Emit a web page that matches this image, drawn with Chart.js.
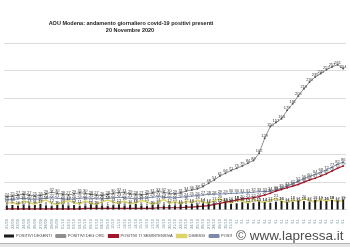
<!DOCTYPE html>
<html>
<head>
<meta charset="utf-8">
<script src="https://cdn.jsdelivr.net/npm/chart.js@4"></script>
<style>
  body { margin: 0; background: #fff; }
  #wrap { width: 350px; height: 247px; }
</style>
</head>
<body>
<div id="wrap"><canvas id="grafico" width="350" height="247"></canvas></div>
<script>
const giorni = [
  '21/09','22/09','23/09','24/09','25/09','26/09','27/09','28/09','29/09','30/09',
  '01/10','02/10','03/10','04/10','05/10','06/10','07/10','08/10','09/10','10/10',
  '11/10','12/10','13/10','14/10','15/10','16/10','17/10','18/10','19/10','20/10',
  '21/10','22/10','23/10','24/10','25/10','26/10','27/10','28/10','29/10','30/10',
  '31/10','01/11','02/11','03/11','04/11','05/11','06/11','07/11','08/11','09/11',
  '10/11','11/11','12/11','13/11','14/11','15/11','16/11','17/11','18/11','19/11','20/11'
];
// valori stimati dal grafico
const degenti = [
  8,9,7,10,8,9,11,8,7,9,
  10,8,9,7,8,10,9,8,7,9,
  10,8,9,11,8,7,9,10,8,9,
  8,10,9,11,10,12,11,10,12,13,
  11,12,14,12,13,15,14,13,15,16,
  14,15,17,16,15,18,17,16,18,17,19
];
const degOrd = [
  24,25,27,28,27,25,26,29,32,30,
  28,27,29,31,30,28,27,26,28,30,
  32,31,29,28,27,29,31,33,32,30,
  29,31,34,36,38,42,48,54,61,66,
  71,75,79,84,89,102,129,150,157,164,
  179,191,205,218,230,239,245,252,257,261,254
];
const semintensiva = [
  2,2,2,2,2,2,2,2,2,2,
  2,2,2,2,3,3,3,3,3,3,
  3,3,3,3,3,3,3,4,4,4,
  4,4,5,5,6,7,8,10,12,14,
  16,18,20,21,22,24,27,30,34,37,
  40,43,46,50,54,57,61,65,70,75,79
];
const dimessi = [
  12,14,10,16,13,11,15,18,12,10,
  14,17,13,11,16,12,10,15,18,14,
  12,16,11,13,17,15,10,14,19,12,
  15,11,16,13,18,14,12,17,20,15,
  13,18,16,12,19,15,14,17,21,16,
  13,18,15,20,17,14,19,16,18,15,17
];
const terapia = [
  18,19,20,21,20,19,20,21,22,21,
  20,19,20,21,22,21,20,20,21,22,
  23,22,21,20,21,22,23,24,23,22,
  22,23,24,25,26,27,28,28,29,29,
  30,30,31,31,32,33,33,34,36,39,
  43,47,52,56,60,64,68,72,77,82,86
];

const etichette = {
  id: 'etichette',
  afterDatasetsDraw(chart) {
    const ctx = chart.ctx;
    ctx.save();
    ctx.font = '4px "Liberation Sans"';
    ctx.textAlign = 'center';
    ctx.fillStyle = '#3a3a3a';
    chart.data.datasets.forEach((ds, i) => {
      const meta = chart.getDatasetMeta(i);
      meta.data.forEach((el, j) => {
        ctx.fillText(ds.data[j], el.x, el.y - 2);
      });
    });
    ctx.restore();
  }
};

const cornice = {
  id: 'cornice',
  afterDraw(chart) {
    const ctx = chart.ctx;
    ctx.save();
    ctx.fillStyle = '#222';
    ctx.textAlign = 'center';
    ctx.font = 'bold 5.5px "Liberation Sans"';
    ctx.fillText('AOU Modena: andamento giornaliero covid-19 positivi presenti', 131, 23);
    ctx.fillText('20 Novembre 2020', 130, 30);
    // watermark
    ctx.fillStyle = '#fff';
    ctx.fillRect(232, 224, 118, 19);
    ctx.fillStyle = '#4d4d4d';
    ctx.textAlign = 'left';
    ctx.font = '13.5px "Liberation Sans"';
    ctx.fillText('\u00a9 www.lapressa.it', 236, 236);
    ctx.fillStyle = '#b5b5b5';
    ctx.fillRect(0, 243, 350, 1);
    ctx.fillStyle = '#e6e6e6';
    ctx.fillRect(0, 244, 350, 3);
    ctx.restore();
  }
};

const ctx = document.getElementById('grafico').getContext('2d');
new Chart(ctx, {
  type: 'bar',
  data: {
    labels: giorni,
    datasets: [
      { type: 'bar', label: 'POSITIVI DEGENTI', data: degenti, backgroundColor: '#1a1a1a', barPercentage: 0.35, categoryPercentage: 1 },
      { type: 'line', label: 'POSITIVI DEG ORD', data: degOrd, borderColor: '#8f8f8f', backgroundColor: '#8f8f8f', borderWidth: 1, pointRadius: 1, pointBackgroundColor: '#555', pointBorderWidth: 0, tension: 0 },
      { type: 'line', label: 'POSITIVI TI SEMINTENSIVA', data: semintensiva, borderColor: '#a3172b', backgroundColor: '#a3172b', borderWidth: 1.2, pointRadius: 1, pointBorderWidth: 0, tension: 0 },
      { type: 'line', label: 'DIMESSI', data: dimessi, borderColor: '#ddd46a', backgroundColor: '#ddd46a', borderWidth: 1.5, pointRadius: 0.8, pointBorderWidth: 0, tension: 0 },
      { type: 'line', label: 'POSITIVI TERAPIA INTENSIVA', data: terapia, borderColor: '#7d8aa8', backgroundColor: '#7d8aa8', borderWidth: 1, pointRadius: 1, pointBorderWidth: 0, tension: 0 }
    ]
  },
  options: {
    responsive: false,
    animation: false,
    layout: { padding: { top: 43, left: 0, right: 2, bottom: -1 } },
    plugins: {
      legend: {
        position: 'bottom',
        align: 'start',
        labels: { font: { size: 4, family: 'Liberation Sans' }, color: '#444', boxWidth: 10, boxHeight: 3, padding: 4 }
      },
      tooltip: { enabled: false }
    },
    scales: {
      x: {
        grid: { display: false },
        border: { color: '#d9d9d9' },
        ticks: { font: { size: 4, family: 'Liberation Sans' }, color: '#6f8f96', maxRotation: 90, minRotation: 90, autoSkip: false, padding: 1 }
      },
      y: {
        min: 0,
        max: 300,
        ticks: { display: false, stepSize: 50 },
        grid: { color: '#dcdcdc', drawTicks: false },
        border: { display: false }
      }
    }
  },
  plugins: [etichette, cornice]
});
</script>
</body>
</html>
